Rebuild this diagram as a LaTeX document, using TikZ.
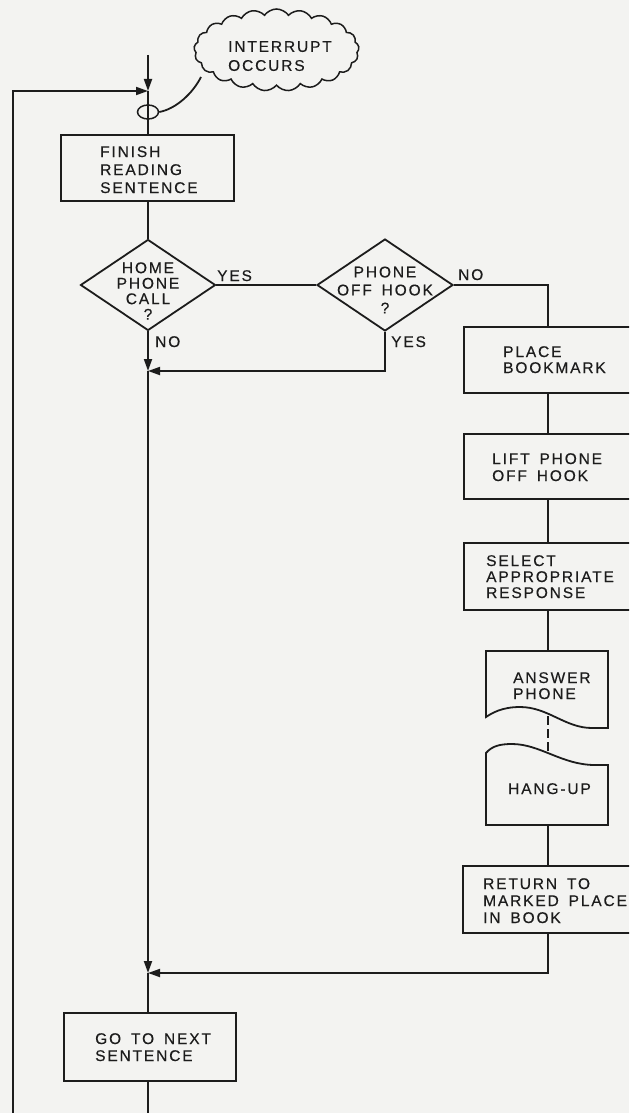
\documentclass[tikz,border=0pt]{standalone}
\usepackage{fontspec}
\setmainfont{Liberation Sans}[LetterSpace=12,WordSpace=1.6,FakeBold=0.4]
\usetikzlibrary{shapes.geometric,shapes.symbols,arrows.meta}
\definecolor{paper}{HTML}{F3F3F1}
\definecolor{ink}{HTML}{1C1C1C}
\begin{document}
\begin{tikzpicture}[x=1pt,y=-1pt,
  line/.style={line width=1.8pt,draw=ink},
  arr/.style={line,-{Triangle[length=12pt,width=8pt]}},
  box/.style={line,rectangle,inner sep=0pt,anchor=north west},
  dec/.style={line,diamond,inner sep=0pt},
  lbl/.style={text=ink,font=\fontsize{15.5}{16.5}\selectfont,inner sep=0pt,align=left,anchor=north west},
  dlbl/.style={text=ink,font=\fontsize{15.5}{16.5}\selectfont,inner sep=0pt,align=center,anchor=center},
  ]
\useasboundingbox (0,0) rectangle (629,1113);
\clip (0,0) rectangle (629,1113);
\fill[paper] (0,0) rectangle (629,1113);

% junctions and free ends
\coordinate (top) at (148,55);
\coordinate (j1) at (148,91);
\coordinate (leftbot) at (13,1113);
\coordinate (leftcorner) at (13,91);
\coordinate (j2) at (148,371);
\coordinate (j3) at (148,973);
\coordinate (mainbot) at (148,1113);
\coordinate (rc) at (548,0);

% interrupt cloud
\node[line,line width=1.5pt,cloud,cloud puffs=21,cloud puff arc=110,aspect=2,minimum width=165pt,minimum height=82pt,inner sep=0pt] (cloud) at (276.5,50) {};
\node[lbl,font=\fontsize{15.5}{19}\selectfont] (cloudT) at (228,41) {INTERRUPT\\OCCURS};
\coordinate (cloudtail) at (201,77);
\node[line,line width=1.5pt,ellipse,minimum width=21pt,minimum height=14pt,inner sep=0pt] (ell) at (148,112) {};

% finish reading
\node[box,minimum width=173pt,minimum height=66pt] (finish) at (60,134) {};
\node[lbl,font=\fontsize{15.5}{18}\selectfont] (finishT) at (100,146) {FINISH\\READING\\SENTENCE};

% decisions
\node[dec,minimum width=135pt,minimum height=91pt] (d1) at (148,285) {};
\node[dlbl,font=\fontsize{15.5}{15.5}\selectfont] (d1T) at (148,291) {HOME\\PHONE\\CALL\\?};
\node[dec,minimum width=136pt,minimum height=92pt] (d2) at (385,285) {};
\node[dlbl,font=\fontsize{15.5}{18}\selectfont] (d2T) at (385,290) {PHONE\\OFF HOOK\\?};
\node[lbl] (yes1) at (217,270) {YES};
\node[lbl] (no1) at (155,336) {NO};
\node[lbl] (no2) at (458,269) {NO};
\node[lbl] (yes2) at (391,336) {YES};

% right column
\node[box,minimum width=180pt,minimum height=66pt] (place) at (463,326) {};
\node[lbl,font=\fontsize{15.5}{16}\selectfont] (placeT) at (503,346) {PLACE\\BOOKMARK};
\node[box,minimum width=180pt,minimum height=65pt] (lift) at (463,433) {};
\node[lbl,font=\fontsize{15.5}{17}\selectfont] (liftT) at (492,453) {LIFT PHONE\\OFF HOOK};
\node[box,minimum width=180pt,minimum height=67pt] (select) at (463,542) {};
\node[lbl,font=\fontsize{15.5}{16}\selectfont] (selectT) at (486,555) {SELECT\\APPROPRIATE\\RESPONSE};

% answer phone (document shape)
\coordinate (ansTop) at (548,651);
\coordinate (ansBot) at (548,716);
\draw[line] (486,717) -- (486,651) -- (608,651) -- (608,728) -- (592,728)
  .. controls (565,728) and (548,707) .. (520,707)
  .. controls (502,707) and (492,713) .. (486,717) -- cycle;
\node[lbl,font=\fontsize{15.5}{16}\selectfont] (ansT) at (513,672) {ANSWER\\PHONE};

% hang-up (document shape, wave on top)
\coordinate (hangTop) at (548,753);
\coordinate (hangBot) at (548,825);
\draw[line] (486,753) .. controls (492,746) and (500,744) .. (512,744)
  .. controls (540,744) and (562,765) .. (595,765) -- (608,765) -- (608,825) -- (486,825) -- cycle;
\node[lbl] (hangT) at (508,783) {HANG-UP};

\node[box,minimum width=180pt,minimum height=67pt] (return) at (462,865) {};
\node[lbl,font=\fontsize{15.5}{17}\selectfont] (returnT) at (483,878) {RETURN TO\\MARKED PLACE\\IN BOOK};

% go to next
\node[box,minimum width=172pt,minimum height=68pt] (goto) at (63,1012) {};
\node[lbl,font=\fontsize{15.5}{17}\selectfont] (gotoT) at (95,1033) {GO TO NEXT\\SENTENCE};

% connectors
\draw[arr] (top) -- (j1);
\draw[arr] (leftbot) -- (leftcorner) -- (j1);
\draw[line] (j1) -- (j1 |- finish.north);
\draw[line] (ell.east) .. controls (176,109) and (193,93) .. (cloudtail);
\draw[line] (j1 |- finish.south) -- (d1.north);
\draw[line] (d1.east) -- (d2.west);
\draw[arr] (d1.south) -- (j2);
\draw[arr] (d2.south) |- (j2);
\draw[line] (d2.east) -| (rc |- place.north);
\draw[line] (rc |- place.south) -- (rc |- lift.north);
\draw[line] (rc |- lift.south) -- (rc |- select.north);
\draw[line] (rc |- select.south) -- (ansTop);
\draw[line,dash pattern=on 9pt off 4pt] (ansBot) -- (hangTop);
\draw[line] (hangBot) -- (rc |- return.north);
\draw[arr] (rc |- return.south) |- (j3);
\draw[arr] (j2) -- (j3);
\draw[line] (j3) -- (j3 |- goto.north);
\draw[line] (j3 |- goto.south) -- (mainbot);
\end{tikzpicture}
\end{document}
